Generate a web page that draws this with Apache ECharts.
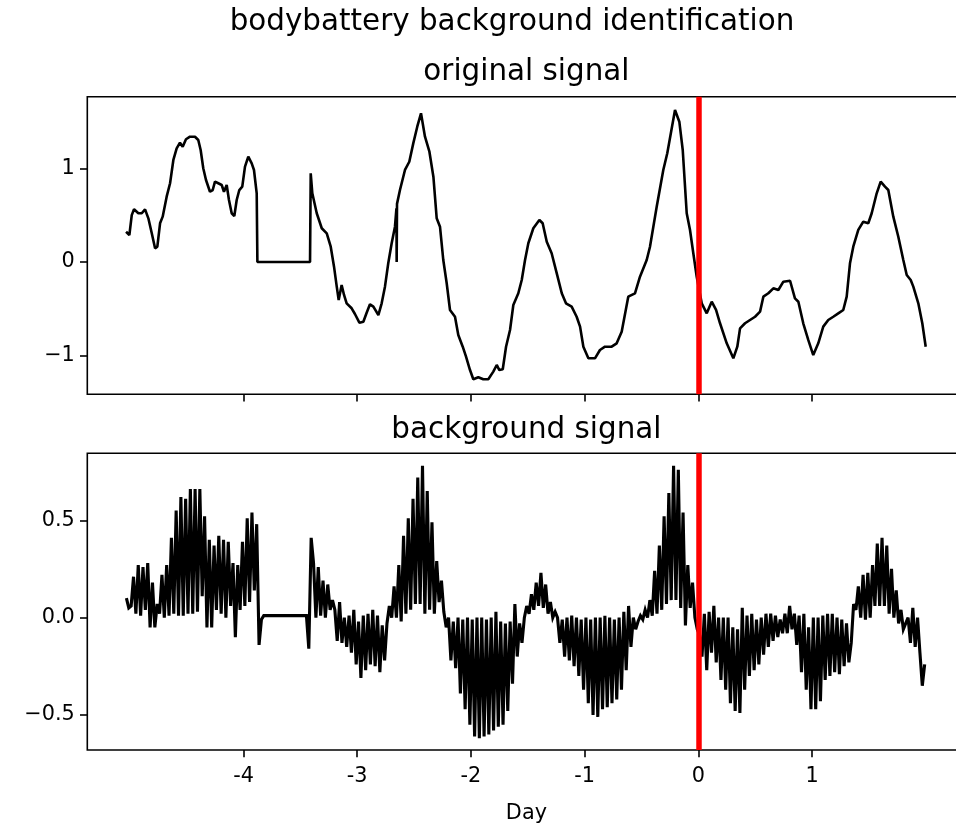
<!DOCTYPE html>
<html>
<head>
<meta charset="utf-8">
<script src="https://cdn.jsdelivr.net/npm/echarts@6/dist/echarts.min.js"></script>
<style>
  html, body { margin: 0; padding: 0; background: #ffffff; overflow: hidden; }
  /* the plot frame runs past the right edge of the page, so the canvas is a bit wider */
  #chart { width: 976px; height: 825px; }
</style>
</head>
<body>
<div id="chart"></div>
<script>
// ---- data ----
// Original signal: day offsets and values (the trace, including its gaps filled with 0)
const origDays = [
  -5.033, -5.004, -4.983, -4.963, -4.925, -4.895, -4.866, -4.837, -4.807, -4.778,
  -4.758, -4.734, -4.711, -4.676, -4.646, -4.617, -4.588, -4.559, -4.535, -4.506,
  -4.471, -4.427, -4.398, -4.377, -4.354, -4.330, -4.295, -4.271, -4.251, -4.222,
  -4.192, -4.172, -4.148, -4.128, -4.104, -4.081, -4.060, -4.037, -4.011, -3.987,
  -3.958, -3.928, -3.908, -3.884, -3.878, -3.415, -3.409, -3.395, -3.356, -3.312,
  -3.268, -3.233, -3.204, -3.180, -3.163, -3.137, -3.116, -3.093, -3.049, -3.020,
  -2.981, -2.946, -2.917, -2.888, -2.858, -2.814, -2.785, -2.756, -2.727, -2.697,
  -2.668, -2.655, -2.653, -2.650, -2.624, -2.580, -2.542, -2.507, -2.472, -2.439,
  -2.404, -2.365, -2.330, -2.301, -2.272, -2.243, -2.213, -2.184, -2.140, -2.111,
  -2.072, -2.043, -2.008, -1.979, -1.935, -1.891, -1.847, -1.803, -1.773, -1.750,
  -1.720, -1.691, -1.656, -1.627, -1.583, -1.553, -1.524, -1.495, -1.451, -1.398,
  -1.369, -1.333, -1.290, -1.245, -1.201, -1.164, -1.114, -1.070, -1.040, -1.011,
  -0.967, -0.909, -0.865, -0.821, -0.762, -0.718, -0.674, -0.616, -0.557, -0.513,
  -0.454, -0.425, -0.366, -0.308, -0.273, -0.205, -0.167, -0.137, -0.102, -0.073,
  -0.044, -0.014, 0.030, 0.074, 0.118, 0.156, 0.191, 0.250, 0.308, 0.343,
  0.367, 0.411, 0.455, 0.499, 0.543, 0.572, 0.616, 0.660, 0.704, 0.748,
  0.807, 0.850, 0.880, 0.923, 0.967, 1.011, 1.055, 1.099, 1.143, 1.187,
  1.231, 1.275, 1.305, 1.334, 1.363, 1.407, 1.451, 1.495, 1.525, 1.569,
  1.604, 1.642, 1.671, 1.715, 1.759, 1.803, 1.833, 1.868, 1.891, 1.906,
  1.935, 1.970, 2.000
];
const origValues = [
  0.323, 0.288, 0.500, 0.562, 0.520, 0.520, 0.562, 0.466, 0.306, 0.146,
  0.163, 0.413, 0.484, 0.697, 0.840, 1.089, 1.213, 1.273, 1.230, 1.310,
  1.337, 1.337, 1.302, 1.195, 1.000, 0.875, 0.750, 0.768, 0.857, 0.840,
  0.822, 0.750, 0.822, 0.662, 0.520, 0.491, 0.662, 0.768, 0.804, 1.017,
  1.124, 1.053, 0.982, 0.733, 0.000, 0.000, 0.947, 0.733, 0.520, 0.360,
  0.306, 0.163, -0.050, -0.263, -0.406, -0.245, -0.352, -0.441, -0.494, -0.555,
  -0.648, -0.637, -0.541, -0.452, -0.477, -0.566, -0.441, -0.263, -0.014, 0.200,
  0.377, 0.573, 0.000, 0.620, 0.768, 0.982, 1.070, 1.266, 1.444, 1.587,
  1.337, 1.177, 0.910, 0.466, 0.377, 0.021, -0.227, -0.512, -0.584, -0.779,
  -0.904, -1.010, -1.153, -1.252, -1.230, -1.252, -1.252, -1.170, -1.099, -1.153,
  -1.145, -0.904, -0.726, -0.459, -0.334, -0.192, 0.021, 0.200, 0.360, 0.448,
  0.413, 0.217, 0.093, -0.121, -0.334, -0.441, -0.477, -0.584, -0.690, -0.904,
  -1.028, -1.028, -0.939, -0.904, -0.904, -0.868, -0.744, -0.370, -0.334, -0.157,
  0.021, 0.163, 0.590, 0.982, 1.160, 1.622, 1.497, 1.195, 0.520, 0.342,
  0.093, -0.157, -0.441, -0.548, -0.424, -0.512, -0.654, -0.868, -1.028, -0.904,
  -0.708, -0.654, -0.619, -0.584, -0.530, -0.370, -0.334, -0.281, -0.299, -0.210,
  -0.200, -0.388, -0.424, -0.654, -0.832, -0.993, -0.868, -0.690, -0.619, -0.584,
  -0.548, -0.512, -0.370, -0.014, 0.163, 0.342, 0.430, 0.413, 0.520, 0.733,
  0.857, 0.804, 0.768, 0.484, 0.270, 0.021, -0.139, -0.192, -0.263, -0.245,
  -0.441, -0.654, -0.904
];

// Background signal: one pair per hour, the level at the start of the hour
// and the swing half an hour later
const bgStartDay = -5.03;
const bgSamplesPerDay = 24;
const bgBase = [
  0.10, 0.06, 0.02, 0.01, 0.04, -0.05, -0.05, 0.02, 0.00, 0.01,
  0.02, 0.01, 0.01, 0.02, 0.02, 0.03, 0.11, -0.05, -0.05, 0.04,
  0.02, 0.00, 0.06, -0.10, 0.04, 0.06, 0.08, 0.14, -0.14, 0.01,
  0.01, 0.01, 0.01, 0.01, 0.01, 0.01, 0.01, 0.01, 0.01, 0.41,
  0.00, 0.01, 0.00, 0.04, 0.04, 0.08, 0.00, 0.01, 0.04, -0.02,
  0.01, 0.02, 0.04, 0.01, -0.04, -0.03, 0.00, 0.00, -0.02, 0.02,
  0.04, 0.07, 0.07, 0.02, 0.04, 0.02, 0.08, 0.03, 0.00, -0.02,
  0.00, -0.01, 0.00, -0.01, 0.00, 0.00, -0.01, 0.00, 0.03, -0.02,
  -0.03, -0.02, 0.07, -0.03, 0.00, 0.02, 0.04, 0.06, 0.05, 0.02,
  0.00, 0.00, -0.01, 0.00, 0.01, 0.00, -0.01, 0.00, -0.01, 0.00,
  0.00, 0.01, 0.00, -0.01, 0.00, 0.03, 0.06, 0.00, -0.02, -0.01,
  0.00, 0.01, 0.02, 0.04, 0.07, 0.09, 0.09, 0.05, -0.04, 0.05,
  0.00, -0.09, 0.02, 0.03, 0.06, 0.00, 0.00, 0.00, -0.05, -0.06,
  0.05, 0.01, 0.02, -0.01, 0.00, 0.02, 0.02, 0.01, -0.01, 0.02,
  0.06, 0.02, 0.01, 0.02, -0.05, 0.00, 0.00, 0.01, 0.02, 0.02,
  0.00, -0.01, -0.03, -0.13, 0.04, 0.00, -0.01, 0.00, 0.06, 0.06,
  0.06, 0.02, 0.00, -0.03, -0.06, 0.00, 0.05, 0.00, -0.35
];
const bgSpike = [
  0.05, 0.21, 0.27, 0.26, 0.28, 0.18, 0.07, 0.22, 0.27, 0.41,
  0.55, 0.62, 0.61, 0.66, 0.66, 0.66, 0.52, 0.40, 0.37, 0.42,
  0.40, 0.39, 0.28, 0.27, 0.39, 0.51, 0.54, 0.48, -0.01, 0.01,
  0.01, 0.01, 0.01, 0.01, 0.01, 0.01, 0.01, 0.01, -0.16, 0.28,
  0.26, 0.19, 0.17, 0.09, -0.12, -0.13, -0.15, -0.18, -0.24, -0.31,
  -0.27, -0.24, -0.25, -0.28, -0.22, 0.06, 0.16, 0.27, 0.42, 0.51,
  0.61, 0.72, 0.78, 0.65, 0.49, 0.29, 0.19, -0.05, -0.22, -0.26,
  -0.39, -0.47, -0.55, -0.61, -0.62, -0.61, -0.60, -0.58, -0.56, -0.55,
  -0.48, -0.34, -0.20, -0.13, 0.06, 0.12, 0.18, 0.23, 0.17, 0.08,
  0.03, -0.13, -0.20, -0.22, -0.25, -0.30, -0.37, -0.44, -0.50, -0.51,
  -0.47, -0.46, -0.44, -0.42, -0.37, -0.27, -0.15, -0.06, 0.01, 0.04,
  0.09, 0.24, 0.37, 0.52, 0.64, 0.78, 0.76, 0.54, 0.27, 0.18,
  -0.06, -0.20, -0.27, -0.18, -0.23, -0.32, -0.37, -0.44, -0.48, -0.49,
  -0.37, -0.30, -0.27, -0.24, -0.19, -0.15, -0.12, -0.10, -0.08, -0.08,
  -0.06, -0.14, -0.28, -0.37, -0.47, -0.47, -0.43, -0.32, -0.30, -0.28,
  -0.29, -0.25, -0.23, 0.07, 0.16, 0.22, 0.23, 0.27, 0.38, 0.41,
  0.37, 0.25, 0.14, 0.04, -0.03, -0.13, -0.15, -0.18, -0.24
];

// Axis ticks and the marked day
const dayTicks = [-4, -3, -2, -1, 0, 1];
const origTicks = [-1, 0, 1];
const bgTicks = [-0.5, 0, 0.5];
const markedDay = 0;

// ---- build series data ----
const origData = origDays.map((d, i) => [d, origValues[i]]);
const bgData = [];
for (let i = 0; i < bgBase.length; i++) {
  bgData.push([bgStartDay + i / bgSamplesPerDay, bgBase[i]]);
  bgData.push([bgStartDay + (i + 0.5) / bgSamplesPerDay, bgSpike[i]]);
}

// ---- chart ----
const FONT = 'DejaVu Sans';
const TICK_FONT = 20.8;
const TITLE_FONT = 29.4;
const xRange = { min: -5.374, max: 2.35 };

function minusFmt(v, digits) {
  const s = digits == null ? String(Math.abs(v)) : Math.abs(v).toFixed(digits);
  return (v < 0 ? '\u2212' : '') + s;
}

function xAxisCfg(gridIndex, withLabels) {
  return {
    type: 'value', gridIndex: gridIndex, min: xRange.min, max: xRange.max,
    axisLine: { show: false, onZero: false },
    splitLine: { show: false },
    axisTick: { show: true, inside: false, length: 7.3, customValues: dayTicks,
                lineStyle: { color: '#000', width: 1.6 } },
    axisLabel: { show: withLabels, customValues: dayTicks, margin: 16,
                 color: '#000', fontSize: TICK_FONT, fontFamily: FONT,
                 formatter: v => String(v) },
    name: withLabels ? 'Day' : '',
    nameLocation: 'middle', nameGap: 53,
    nameTextStyle: { color: '#000', fontSize: TICK_FONT, fontFamily: FONT }
  };
}

function yAxisCfg(gridIndex, min, max, ticks, digits) {
  return {
    type: 'value', gridIndex: gridIndex, min: min, max: max,
    axisLine: { show: false, onZero: false },
    splitLine: { show: false },
    axisTick: { show: true, length: 7.3, customValues: ticks,
                lineStyle: { color: '#000', width: 1.6 } },
    axisLabel: { show: true, customValues: ticks, margin: 12.5,
                 color: '#000', fontSize: TICK_FONT, fontFamily: FONT,
                 formatter: v => minusFmt(v, digits) }
  };
}

const redMark = {
  symbol: 'none', silent: true, animation: false,
  label: { show: false },
  lineStyle: { color: '#ff0000', width: 5.5, type: 'solid' },
  emphasis: { disabled: true },
  data: [{ xAxis: markedDay }]
};

const titleFont = 'normal ' + TITLE_FONT + 'px "DejaVu Sans"';

const option = {
  animation: false,
  backgroundColor: '#ffffff',
  textStyle: { fontFamily: FONT },
  grid: [
    { left: 87.3, top: 96.7, width: 878.2, height: 297.6, show: true,
      borderColor: '#000', borderWidth: 1.6, backgroundColor: 'transparent' },
    { left: 87.3, top: 453.3, width: 878.2, height: 296.7, show: true,
      borderColor: '#000', borderWidth: 1.6, backgroundColor: 'transparent' }
  ],
  xAxis: [xAxisCfg(0, false), xAxisCfg(1, true)],
  yAxis: [
    yAxisCfg(0, -1.412, 1.764, origTicks, null),
    yAxisCfg(1, -0.68, 0.844, bgTicks, 1)
  ],
  graphic: [
    { type: 'text', x: 512, y: 22, silent: true,
      style: { text: 'bodybattery background identification', fill: '#000',
               font: titleFont, align: 'center', verticalAlign: 'middle' } },
    { type: 'text', x: 526.4, y: 72, silent: true,
      style: { text: 'original signal', fill: '#000',
               font: titleFont, align: 'center', verticalAlign: 'middle' } },
    { type: 'text', x: 526.4, y: 430, silent: true,
      style: { text: 'background signal', fill: '#000',
               font: titleFont, align: 'center', verticalAlign: 'middle' } }
  ],
  series: [
    { type: 'line', name: 'original', xAxisIndex: 0, yAxisIndex: 0, data: origData,
      symbol: 'none', silent: true, clip: true,
      lineStyle: { color: '#000', width: 2.6 },
      markLine: redMark },
    { type: 'line', name: 'background', xAxisIndex: 1, yAxisIndex: 1, data: bgData,
      symbol: 'none', silent: true, clip: true,
      lineStyle: { color: '#000', width: 3.1, join: 'miter', miterLimit: 4 },
      markLine: redMark }
  ]
};

const chart = echarts.init(document.getElementById('chart'), null, { renderer: 'canvas' });
chart.setOption(option);
</script>
</body>
</html>
